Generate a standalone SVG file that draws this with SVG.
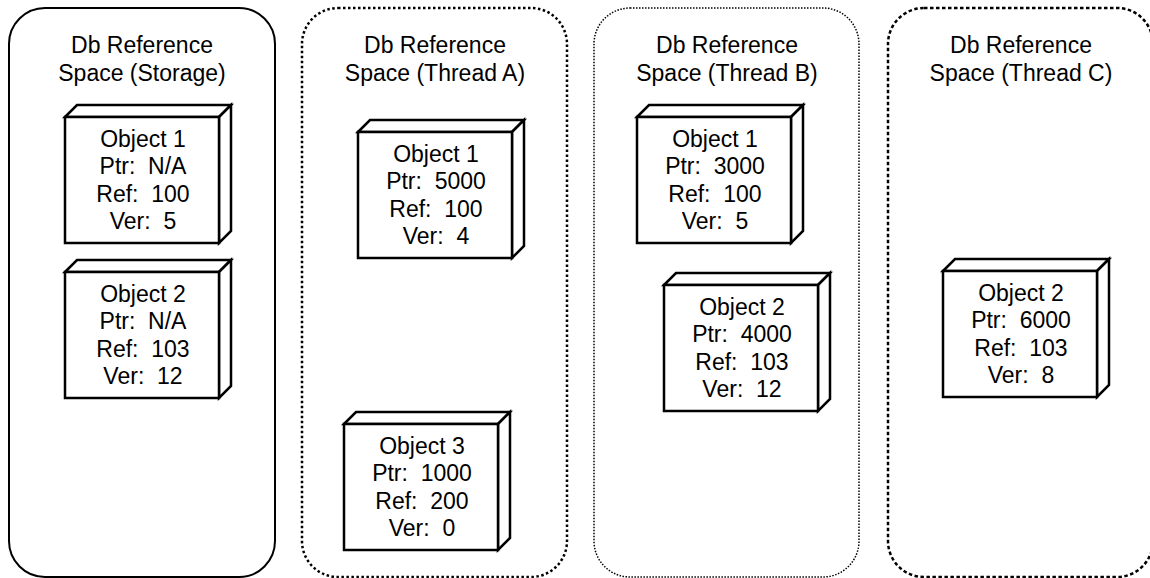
<svg xmlns="http://www.w3.org/2000/svg" width="1150" height="578" viewBox="0 0 1150 578">
  <style>
    .space { fill: #ffffff; stroke: #000000; }
    .solid { stroke-width: 2; }
    .dotA { stroke-width: 2.5; stroke-dasharray: 2.5 2.5; }
    .dotB { stroke-width: 1.5; stroke-dasharray: 1.5 1.5; }
    .dotC { stroke-width: 2.5; stroke-dasharray: 3.5 2.5; }
    .face { fill: #ffffff; stroke: #000000; stroke-width: 2.5; stroke-linejoin: miter; }
    text { font-family: "Liberation Sans", Arial, sans-serif; font-size: 23px; fill: #000000; text-anchor: middle; }
  </style>
  <defs>
    <!-- 3D object box: front face 154x126 with a 12px deep top and right side -->
    <g id="box">
      <path class="face" d="M0,0 L12,-12 L166,-12 L154,0 Z"/>
      <path class="face" d="M154,0 L166,-12 L166,114 L154,126 Z"/>
      <rect class="face" x="0" y="0" width="154" height="126"/>
    </g>
  </defs>

  <!-- reference spaces -->
  <g id="space-storage">
    <rect class="space solid" x="9" y="8" width="266" height="569" rx="36" ry="36"/>
    <text x="142" y="53">Db Reference</text>
    <text x="142" y="81">Space (Storage)</text>
  </g>
  <g id="space-thread-a">
    <rect class="space dotA" x="302" y="8" width="265" height="569" rx="36" ry="36"/>
    <text x="435" y="53">Db Reference</text>
    <text x="435" y="81">Space (Thread A)</text>
  </g>
  <g id="space-thread-b">
    <rect class="space dotB" x="594" y="8" width="265" height="569" rx="36" ry="36"/>
    <text x="727" y="53">Db Reference</text>
    <text x="727" y="81">Space (Thread B)</text>
  </g>
  <g id="space-thread-c">
    <rect class="space dotC" x="888" y="8" width="265" height="569" rx="36" ry="36"/>
    <text x="1021" y="53">Db Reference</text>
    <text x="1021" y="81">Space (Thread C)</text>
  </g>

  <!-- objects -->
  <g id="storage-object-1" transform="translate(65,117)">
    <use href="#box"/>
    <text x="78" y="30" xml:space="preserve">Object 1</text>
    <text x="78" y="57" xml:space="preserve">Ptr:  N/A</text>
    <text x="78" y="85" xml:space="preserve">Ref:  100</text>
    <text x="78" y="112" xml:space="preserve">Ver:  5</text>
  </g>
  <g id="storage-object-2" transform="translate(65,272)">
    <use href="#box"/>
    <text x="78" y="30" xml:space="preserve">Object 2</text>
    <text x="78" y="57" xml:space="preserve">Ptr:  N/A</text>
    <text x="78" y="85" xml:space="preserve">Ref:  103</text>
    <text x="78" y="112" xml:space="preserve">Ver:  12</text>
  </g>
  <g id="thread-a-object-1" transform="translate(358,132)">
    <use href="#box"/>
    <text x="78" y="30" xml:space="preserve">Object 1</text>
    <text x="78" y="57" xml:space="preserve">Ptr:  5000</text>
    <text x="78" y="85" xml:space="preserve">Ref:  100</text>
    <text x="78" y="112" xml:space="preserve">Ver:  4</text>
  </g>
  <g id="thread-a-object-3" transform="translate(344,424)">
    <use href="#box"/>
    <text x="78" y="30" xml:space="preserve">Object 3</text>
    <text x="78" y="57" xml:space="preserve">Ptr:  1000</text>
    <text x="78" y="85" xml:space="preserve">Ref:  200</text>
    <text x="78" y="112" xml:space="preserve">Ver:  0</text>
  </g>
  <g id="thread-b-object-1" transform="translate(637,117)">
    <use href="#box"/>
    <text x="78" y="30" xml:space="preserve">Object 1</text>
    <text x="78" y="57" xml:space="preserve">Ptr:  3000</text>
    <text x="78" y="85" xml:space="preserve">Ref:  100</text>
    <text x="78" y="112" xml:space="preserve">Ver:  5</text>
  </g>
  <g id="thread-b-object-2" transform="translate(664,285)">
    <use href="#box"/>
    <text x="78" y="30" xml:space="preserve">Object 2</text>
    <text x="78" y="57" xml:space="preserve">Ptr:  4000</text>
    <text x="78" y="85" xml:space="preserve">Ref:  103</text>
    <text x="78" y="112" xml:space="preserve">Ver:  12</text>
  </g>
  <g id="thread-c-object-2" transform="translate(943,271)">
    <use href="#box"/>
    <text x="78" y="30" xml:space="preserve">Object 2</text>
    <text x="78" y="57" xml:space="preserve">Ptr:  6000</text>
    <text x="78" y="85" xml:space="preserve">Ref:  103</text>
    <text x="78" y="112" xml:space="preserve">Ver:  8</text>
  </g>

  <!-- no links between objects -->
  <g id="connectors"/>
</svg>
